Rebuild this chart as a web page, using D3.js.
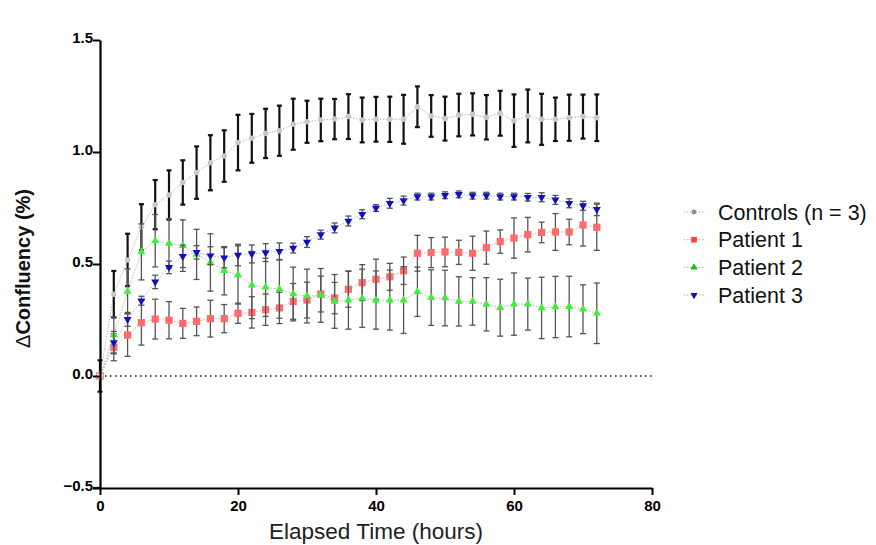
<!DOCTYPE html>
<html>
<head>
<meta charset="utf-8">
<script src="https://cdn.jsdelivr.net/npm/d3@7"></script>
<style>
  body { margin: 0; background: #fff; }
  svg { display: block; }
  .tick-label { font-family: "Liberation Sans Narrow", "Liberation Sans", Arial, sans-serif; font-weight: bold; }
</style>
</head>
<body>
<svg id="chart" width="876" height="545"></svg>
<script>
// elapsed time (hours)
const times = [0, 2, 4, 6, 8, 10, 12, 14, 16, 18, 20, 22, 24, 26, 28, 30, 32, 34, 36,
    38, 40, 42, 44, 46, 48, 50, 52, 54, 56, 58, 60, 62, 64, 66, 68, 70, 72];

const controls = [0, 0.365, 0.518, 0.664, 0.765, 0.808, 0.864, 0.908, 0.952, 0.982, 1.042,
    1.061, 1.083, 1.095, 1.124, 1.135, 1.143, 1.147, 1.158, 1.143, 1.146,
    1.146, 1.146, 1.202, 1.161, 1.149, 1.165, 1.168, 1.155, 1.173, 1.140,
    1.161, 1.146, 1.146, 1.153, 1.158, 1.153];
const controlsErr = [0.07, 0.104, 0.117, 0.103, 0.11, 0.11, 0.099, 0.117, 0.123, 0.115, 0.124,
    0.109, 0.11, 0.112, 0.114, 0.094, 0.095, 0.09, 0.10, 0.10, 0.10,
    0.101, 0.109, 0.091, 0.093, 0.098, 0.095, 0.094, 0.099, 0.10, 0.117,
    0.118, 0.114, 0.097, 0.103, 0.098, 0.104];

const patient1 = [0, 0.128, 0.183, 0.238, 0.254, 0.249, 0.235, 0.244, 0.256, 0.256, 0.280,
    0.284, 0.296, 0.304, 0.333, 0.339, 0.366, 0.348, 0.387, 0.417, 0.432,
    0.443, 0.470, 0.548, 0.551, 0.554, 0.552, 0.548, 0.573, 0.600, 0.616,
    0.631, 0.641, 0.643, 0.643, 0.674, 0.664];
const patient1Err = [0.02, 0.06, 0.095, 0.10, 0.089, 0.083, 0.067, 0.064, 0.082, 0.063, 0.045,
    0.07, 0.07, 0.07, 0.08, 0.08, 0.08, 0.07, 0.08, 0.08, 0.09,
    0.06, 0.061, 0.08, 0.067, 0.066, 0.054, 0.076, 0.074, 0.052, 0.09,
    0.077, 0.046, 0.082, 0.057, 0.094, 0.103];

const patient2 = [0, 0.183, 0.378, 0.554, 0.604, 0.592, 0.582, 0.543, 0.507, 0.470, 0.451,
    0.406, 0.396, 0.388, 0.366, 0.357, 0.36, 0.333, 0.339, 0.347, 0.339,
    0.339, 0.339, 0.376, 0.350, 0.348, 0.333, 0.333, 0.320, 0.305, 0.321,
    0.321, 0.304, 0.308, 0.310, 0.298, 0.280];
const patient2Err = [0.03, 0.08, 0.1, 0.125, 0.117, 0.11, 0.115, 0.112, 0.128, 0.108, 0.13,
    0.15, 0.13, 0.13, 0.12, 0.12, 0.12, 0.12, 0.13, 0.13, 0.13,
    0.134, 0.149, 0.11, 0.124, 0.124, 0.11, 0.106, 0.119, 0.127, 0.139,
    0.116, 0.137, 0.137, 0.135, 0.109, 0.135];

const patient3 = [0, 0.149, 0.253, 0.336, 0.420, 0.485, 0.534, 0.552, 0.537, 0.528, 0.540,
    0.545, 0.551, 0.557, 0.571, 0.598, 0.631, 0.661, 0.692, 0.722, 0.750,
    0.771, 0.783, 0.801, 0.801, 0.807, 0.811, 0.805, 0.805, 0.801, 0.801,
    0.798, 0.798, 0.786, 0.771, 0.760, 0.744];
const patient3Err = [0.02, 0.05, 0.031, 0.02, 0.03, 0.028, 0.05, 0.03, 0.04, 0.045, 0.048,
    0.04, 0.04, 0.037, 0.022, 0.024, 0.02, 0.022, 0.022, 0.02, 0.015,
    0.022, 0.02, 0.015, 0.015, 0.015, 0.015, 0.015, 0.015, 0.015, 0.015,
    0.017, 0.02, 0.02, 0.02, 0.02, 0.028];

const xTicks = [0, 20, 40, 60, 80];
const yTicks = [-0.5, 0.0, 0.5, 1.0, 1.5];

const series = [
    { name: 'Controls (n = 3)', values: controls, err: controlsErr, symbol: d3.symbolCircle, size: 24, fill: '#c8c8c8', legendFill: '#8c8c8c', bar: '#111', barWidth: 2.2, cap: 5 },
    { name: 'Patient 1', values: patient1, err: patient1Err, symbol: d3.symbolSquare, size: 52, fill: '#ff6b6b', legendFill: '#ff4040', bar: '#555', barWidth: 1.3, cap: 6, legendSize: 32 },
    { name: 'Patient 2', values: patient2, err: patient2Err, symbol: d3.symbolTriangle, size: 28, fill: '#3cf03c', legendFill: '#10c010', bar: '#555', barWidth: 1.3, cap: 6 },
    { name: 'Patient 3', values: patient3, err: patient3Err, symbol: d3.symbolTriangle, size: 28, fill: '#1010c0', legendFill: '#1010c0', bar: '#555', barWidth: 1.3, cap: 6, flip: true }
];

const margin = { top: 40, left: 100 };
const width = 552;
const height = 448;

const svg = d3.select('#chart');
const g = svg.append('g').attr('transform', `translate(${margin.left},${margin.top})`);

const x = d3.scaleLinear().domain([0, 80]).range([0, width]);
const y = d3.scaleLinear().domain([-0.5, 1.5]).range([height, 0]);

// zero reference line
g.append('line')
    .attr('x1', x(0)).attr('x2', x(80))
    .attr('y1', y(0)).attr('y2', y(0))
    .attr('stroke', '#222')
    .attr('stroke-width', 1.6)
    .attr('stroke-dasharray', '1.6,3.4');

// series: connecting line, error bars, markers
series.forEach(s => {
    const pts = times.map((t, i) => ({ t, v: s.values[i], e: s.err[i] }));
    const sg = g.append('g');

    sg.append('path')
        .datum(pts)
        .attr('fill', 'none')
        .attr('stroke', '#b8b8b8')
        .attr('stroke-width', 1)
        .attr('stroke-dasharray', '1.5,1.5')
        .attr('d', d3.line().x(d => x(d.t)).y(d => y(d.v)));

    const bars = sg.selectAll('g.bar')
        .data(pts.filter(d => d.t > 0 || s === series[0]))
        .join('g')
        .attr('class', 'bar')
        .attr('stroke', s.bar)
        .attr('stroke-width', s.barWidth);
    bars.append('line')
        .attr('x1', d => x(d.t)).attr('x2', d => x(d.t))
        .attr('y1', d => y(d.v + d.e)).attr('y2', d => y(d.v - d.e));
    bars.append('line')
        .attr('x1', d => x(d.t) - s.cap / 2).attr('x2', d => x(d.t) + s.cap / 2)
        .attr('y1', d => y(d.v + d.e)).attr('y2', d => y(d.v + d.e));
    bars.append('line')
        .attr('x1', d => x(d.t) - s.cap / 2).attr('x2', d => x(d.t) + s.cap / 2)
        .attr('y1', d => y(d.v - d.e)).attr('y2', d => y(d.v - d.e));

    sg.selectAll('path.pt')
        .data(pts)
        .join('path')
        .attr('class', 'pt')
        .attr('d', d3.symbol().type(s.symbol).size(s.size))
        .attr('transform', d => `translate(${x(d.t)},${y(d.v)})${s.flip ? ' rotate(180)' : ''}`)
        .attr('fill', d => d.t === 0 ? '#fff' : s.fill)
        .attr('stroke', d => d.t === 0 ? '#f08080' : 'none')
        .attr('stroke-width', 0.8);
});

// axes
const xAxis = g.append('g')
    .attr('transform', `translate(0,${height})`)
    .call(d3.axisBottom(x).tickValues(xTicks).tickFormat(d3.format('d')).tickSize(7).tickSizeOuter(0));
const yAxis = g.append('g')
    .call(d3.axisLeft(y).tickValues(yTicks).tickFormat(d3.format('.1f')).tickSize(7).tickSizeOuter(0));

[xAxis, yAxis].forEach(a => {
    a.select('.domain').attr('stroke', '#000').attr('stroke-width', 2.2);
    a.selectAll('.tick line').attr('stroke', '#000').attr('stroke-width', 2);
    a.selectAll('.tick text')
        .attr('class', 'tick-label')
        .attr('fill', '#000')
        .style('font-size', '15px');
});
xAxis.selectAll('.tick text').attr('dy', '0.85em');
yAxis.selectAll('.tick text').attr('x', -7).attr('dy', '0.15em');
// close the corner where the two axes meet
g.append('line')
    .attr('x1', -7).attr('x2', 1)
    .attr('y1', height).attr('y2', height)
    .attr('stroke', '#000').attr('stroke-width', 2.2);

// axis titles
svg.append('text')
    .attr('x', margin.left + x(40))
    .attr('y', 539)
    .attr('text-anchor', 'middle')
    .attr('textLength', 214)
    .attr('lengthAdjust', 'spacingAndGlyphs')
    .style('font-family', '"Liberation Sans", Arial, sans-serif')
    .style('font-size', '22px')
    .attr('fill', '#222')
    .text('Elapsed Time (hours)');

const yTitle = svg.append('text')
    .attr('transform', `translate(30,${margin.top + y(0.48)}) rotate(-90)`)
    .attr('text-anchor', 'middle')
    .style('font-family', '"Liberation Sans", Arial, sans-serif')
    .style('font-size', '20px')
    .attr('fill', '#111');
yTitle.append('tspan').text('Δ');
yTitle.append('tspan').style('font-weight', 'bold').text('Confluency (%)');

// legend
const legend = svg.append('g').attr('transform', 'translate(684,212)');
const rows = legend.selectAll('g')
    .data(series)
    .join('g')
    .attr('transform', (d, i) => `translate(0,${i * 27.7})`);
rows.append('line')
    .attr('x1', 0).attr('x2', 20)
    .attr('stroke', '#b0b0b0')
    .attr('stroke-width', 1)
    .attr('stroke-dasharray', '1.5,1.5');
rows.append('path')
    .attr('d', d => d3.symbol().type(d.symbol).size(d.legendSize || d.size * 0.8)())
    .attr('transform', d => `translate(10,0)${d.flip ? ' rotate(180)' : ''}`)
    .attr('fill', d => d.legendFill);
rows.append('text')
    .attr('x', 34)
    .attr('y', 0)
    .attr('dy', '0.36em')
    .style('font-family', '"Liberation Sans", Arial, sans-serif')
    .style('font-size', '21.5px')
    .attr('fill', '#111')
    .text(d => d.name);
</script>
</body>
</html>
